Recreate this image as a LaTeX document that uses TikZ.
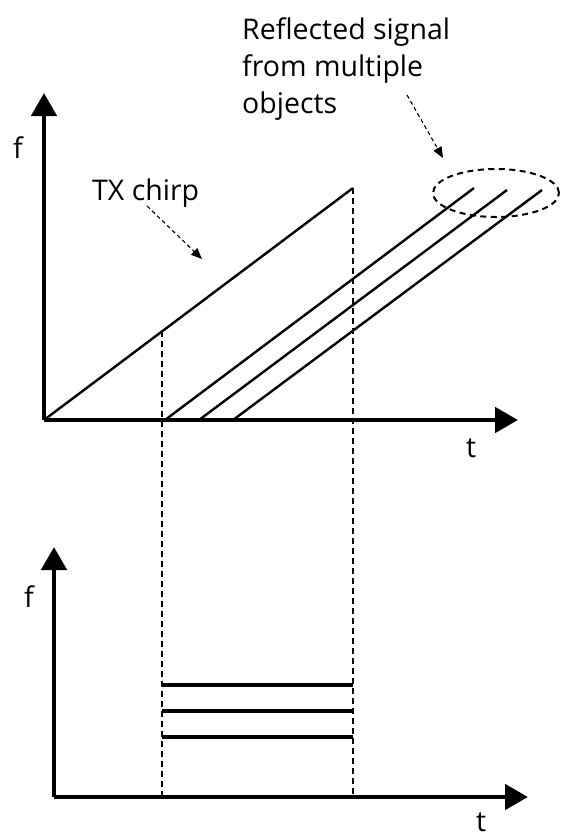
\documentclass[tikz,border=0pt]{standalone}
\usepackage{fontspec}
\setmainfont{Open Sans}
\usetikzlibrary{arrows.meta,shapes.geometric}
\tikzset{
  axis/.style={line width=4.8pt,-{Triangle[length=23pt,width=25pt]}},
  chirp/.style={line width=2.4pt},
  guide/.style={line width=1.8pt,dash pattern=on 6pt off 4pt},
  beat/.style={line width=3.2pt},
  note/.style={line width=1.1pt,dash pattern=on 4pt off 3pt,-{Triangle[length=11pt,width=9pt]}},
  lbl/.style={font=\fontsize{28.5}{34}\selectfont,inner sep=0pt},
}
\begin{document}
\begin{tikzpicture}[x=1pt,y=-1pt]
\useasboundingbox (0,0) rectangle (562,833);
% top axes
\coordinate (O1) at (44,420);
\coordinate (Y1) at (44,93);
\coordinate (X1) at (518,420);
\draw[axis] (O1) -- (Y1);
\draw[axis] (O1) -- (X1);
\node[lbl,anchor=base west] (f1) at (13,158) {f};
\node[lbl,anchor=base west] (t1) at (466,457) {t};
% TX chirp
\coordinate (TXs) at (44,420);
\coordinate (TXe) at (353,188);
\draw[chirp] (TXs) -- (TXe);
% reflected
\coordinate (R1s) at (165,420); \coordinate (R1e) at (474,188);
\coordinate (R2s) at (199,420); \coordinate (R2e) at (507,190);
\coordinate (R3s) at (233,420); \coordinate (R3e) at (542,190);
\draw[chirp] (R1s) -- (R1e);
\draw[chirp] (R2s) -- (R2e);
\draw[chirp] (R3s) -- (R3e);
% guides
\coordinate (G1t) at (162,331); \coordinate (G1b) at (162,797);
\coordinate (G2t) at (353,188); \coordinate (G2b) at (353,797);
\draw[guide] (G1t) -- (G1b);
\draw[guide] (G2t) -- (G2b);
% ellipse
\node[draw,ellipse,line width=2pt,dash pattern=on 6pt off 4.5pt,minimum width=126pt,minimum height=48pt,inner sep=0pt] (E) at (496,193) {};
% labels
\node[lbl,anchor=base west] (tx) at (92,200) {TX chirp};
\coordinate (txa) at (147,206); \coordinate (txb) at (202,259);
\draw[note] (txa) -- (txb);
\node[lbl,anchor=base west] (r1) at (242,39) {Reflected signal};
\node[lbl,anchor=base west] (r2) at (242,76) {from multiple};
\node[lbl,anchor=base west] (r3) at (242,113) {objects};
\coordinate (ra) at (407,95); \coordinate (rb) at (443,158);
\draw[note] (ra) -- (rb);
% bottom axes
\coordinate (O2) at (54,797);
\coordinate (Y2) at (54,547);
\coordinate (X2) at (528,797);
\draw[axis] (O2) -- (Y2);
\draw[axis] (O2) -- (X2);
\node[lbl,anchor=base west] (f2) at (24,607) {f};
\node[lbl,anchor=base west] (t2) at (476,831) {t};
% beat lines
\coordinate (B1a) at (162,685); \coordinate (B1b) at (353,685);
\coordinate (B2a) at (162,711); \coordinate (B2b) at (353,711);
\coordinate (B3a) at (162,737); \coordinate (B3b) at (353,737);
\draw[beat] (B1a) -- (B1b);
\draw[beat] (B2a) -- (B2b);
\draw[beat] (B3a) -- (B3b);
\end{tikzpicture}
\end{document}
